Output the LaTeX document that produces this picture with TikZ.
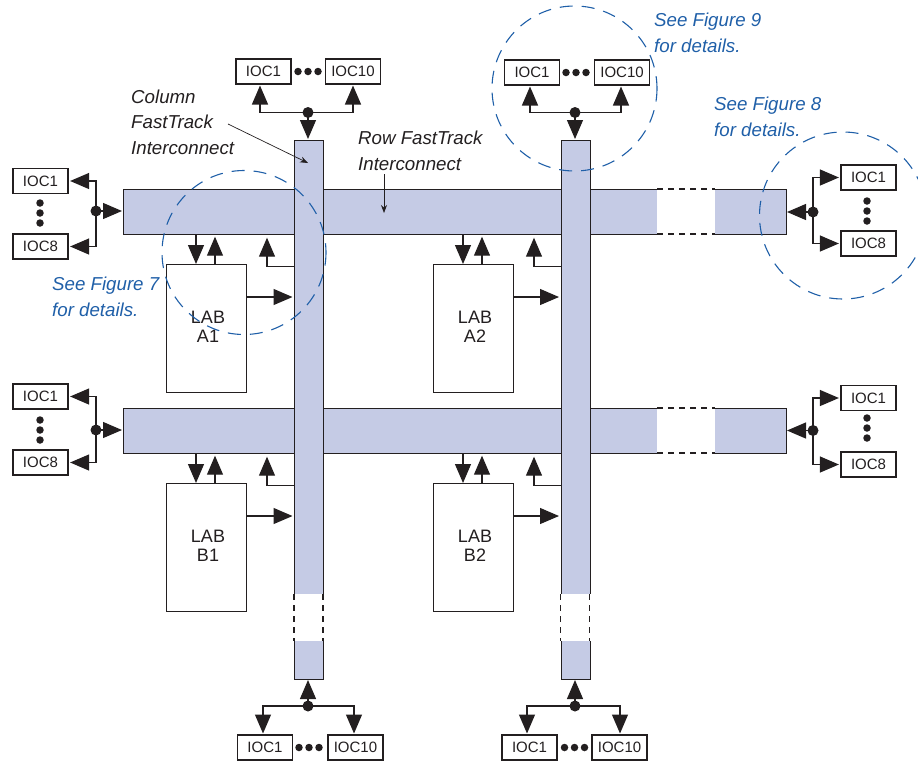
\documentclass[tikz,border=0pt]{standalone}
\usepackage{fontspec}
\setmainfont{Liberation Sans}
\usetikzlibrary{arrows.meta,calc}
\definecolor{barblue}{HTML}{C5CBE5}
\definecolor{linedark}{HTML}{231F20}
\definecolor{noteblue}{HTML}{1F5FA8}
\tikzset{
  x=1pt,y=-1pt,
  ink/.style={draw=linedark,line width=1.2pt},
  bar/.style={ink,fill=barblue,rectangle,inner sep=0pt,anchor=north west},
  ioc/.style={ink,fill=white,rectangle,inner sep=0pt,minimum width=55pt,minimum height=25pt,font=\fontsize{15}{16}\selectfont,text=linedark},
  labbox/.style={ink,fill=white,rectangle,inner sep=0pt,minimum width=80pt,minimum height=128pt,anchor=north west},
  labtext/.style={font=\fontsize{18}{19}\selectfont,align=center,text=linedark},
  arr/.style={line width=1.2pt,draw=linedark,-{Triangle[length=19pt,width=16pt,fill=linedark]}},
  thin arr/.style={line width=0.7pt,draw=linedark,-{Stealth[length=8pt,width=6pt,fill=linedark]}},
  junction/.style={circle,fill=linedark,inner sep=0pt,minimum size=11pt},
  bullet/.style={circle,fill=linedark,inner sep=0pt,minimum size=7.5pt},
  gapdash/.style={line width=1.1pt,draw=linedark,dash pattern=on 6pt off 5pt},
  zone/.style={draw=noteblue,line width=1.1pt,dash pattern=on 13pt off 9pt},
  note/.style={font=\fontsize{18.7}{25.5}\itshape\selectfont,text=noteblue,align=left,anchor=north west,inner sep=0pt},
  captiontext/.style={font=\fontsize{18.7}{25.5}\itshape\selectfont,text=linedark,align=left,anchor=north west,inner sep=0pt}
}
\begin{document}
\begin{tikzpicture}
\useasboundingbox (0,0) rectangle (918,761);
\clip (0,0) rectangle (918,761);
% rows
\foreach \n/\y in {r1/189,r2/408}{
  \node[bar,minimum width=663pt,minimum height=45pt] (\n) at (123,\y) {};
  \fill[white] (657,\y-1) rectangle (715,\y+46);
  \draw[gapdash] (657,\y) -- (715,\y);
  \draw[gapdash] (657,\y+45) -- (715,\y+45);
}
% columns
\foreach \n/\x in {c1/294,c2/560.5}{
  \node[bar,minimum width=29pt,minimum height=539pt] (\n) at (\x,140) {};
  \fill[white] (\x-1,594) rectangle (\x+30,641);
  \draw[gapdash] (\x,594) -- (\x,641);
  \draw[gapdash] (\x+29,594) -- (\x+29,641);
}
% LAB units
\foreach \n/\lx/\ly/\a/\b/\r/\c in {a1/166/264/LAB/A1/r1/c1,a2/433/264/LAB/A2/r1/c2,b1/166/483/LAB/B1/r2/c1,b2/433/483/LAB/B2/r2/c2}{
  \node[labbox] (\n) at (\lx,\ly) {};
  \node[labtext] (\n t) at (\lx+42,\ly+62.5) {\a\\\b};
  \coordinate (\n d) at (\lx+30,\ly);
  \coordinate (\n u) at (\lx+49,\ly);
  \coordinate (\n s) at (\lx+101,\ly+2.5);
  \coordinate (\n k) at (\lx+80,\ly+33);
  \draw[arr] (\n d |- \r.south) -- (\n d);
  \draw[arr,shorten >=1.5pt] (\n u) -- (\n u |- \r.south);
  \draw[arr,shorten >=2.5pt] (\n s -| \c.west) -| (\n s |- \r.south);
  \draw[arr,shorten >=1.5pt] (\n k) -- (\n k -| \c.west);
}
% left and right IOC groups
\foreach \n/\ya/\yb/\yj/\yd in {la/181/246.5/211/203,lb/396.5/462.5/430/420}{
  \node[ioc] (\n1) at (40.5,\ya) {IOC1};
  \node[ioc] (\n8) at (40.5,\yb) {IOC8};
  \node[junction] (\n j) at (96,\yj) {};
  \coordinate (\n e) at (123,\yj);
  \draw[arr,shorten >=1.5pt] (\n j.center) |- (\n1.east);
  \draw[arr,shorten >=1.5pt] (\n j.center) |- (\n8.east);
  \draw[arr,shorten >=1pt] (\n j.center) -- (\n e);
  \foreach \k in {0,10,20}{\node[bullet] at (40,\yd+\k) {};}
}
\foreach \n/\ya/\yb/\yj/\yd in {ra/177.5/243.5/212/201,rb/398/464.5/430.5/418}{
  \node[ioc] (\n1) at (868.5,\ya) {IOC1};
  \node[ioc] (\n8) at (868.5,\yb) {IOC8};
  \node[junction] (\n j) at (813,\yj) {};
  \coordinate (\n e) at (786,\yj);
  \draw[arr,shorten >=1.5pt] (\n j.center) |- (\n1.west);
  \draw[arr,shorten >=1.5pt] (\n j.center) |- (\n8.west);
  \draw[arr,shorten >=1pt] (\n j.center) -- (\n e);
  \foreach \k in {0,10,20}{\node[bullet] at (867,\yd+\k) {};}
}
% top IOC groups
\foreach \n/\xa/\xb/\xj/\xd/\y/\c in {ta/263.5/353/308/298/71.5/c1,tb/532/622/575/566/72.5/c2}{
  \node[ioc] (\n1) at (\xa,\y) {IOC1};
  \node[ioc] (\n0) at (\xb,\y) {IOC10};
  \node[junction] (\n j) at (\xj,112.5) {};
  \coordinate (\n e) at (\xj,140);
  \draw[arr,shorten >=1pt] (\n j.center) -- (\n e);
  \foreach \k in {0,10,20}{\node[bullet] at (\xd+\k,\y) {};}
}
\coordinate (tal) at (260,84); \coordinate (tar) at (353,84);
\coordinate (tbl) at (530,85); \coordinate (tbr) at (621,85);
\draw[arr,shorten >=1.5pt] (taj.center) -| (tal);
\draw[arr,shorten >=1.5pt] (taj.center) -| (tar);
\draw[arr,shorten >=1.5pt] (tbj.center) -| (tbl);
\draw[arr,shorten >=1.5pt] (tbj.center) -| (tbr);
% bottom IOC groups
\foreach \n/\xa/\xb/\xj/\xd/\c in {ba/265/355.5/308/299/c1,bb/529.5/619.5/575/564.5/c2}{
  \node[ioc] (\n1) at (\xa,747.5) {IOC1};
  \node[ioc] (\n0) at (\xb,747.5) {IOC10};
  \node[junction] (\n j) at (\xj,706) {};
  \coordinate (\n e) at (\xj,679);
  \draw[arr,shorten >=1pt] (\n j.center) -- (\n e);
  \foreach \k in {0,10,20}{\node[bullet] at (\xd+\k,747.5) {};}
}
\coordinate (bal) at (263,735); \coordinate (bar) at (354,735);
\coordinate (bbl) at (527,735); \coordinate (bbr) at (620,735);
\draw[arr,shorten >=1.5pt] (baj.center) -| (bal);
\draw[arr,shorten >=1.5pt] (baj.center) -| (bar);
\draw[arr,shorten >=1.5pt] (bbj.center) -| (bbl);
\draw[arr,shorten >=1.5pt] (bbj.center) -| (bbr);
% captions and pointers
\node[captiontext] (colcap) at (131,89.5) {Column\\FastTrack\\Interconnect};
\node[captiontext] (rowcap) at (358,131) {Row FastTrack\\Interconnect};
\coordinate (colfrom) at (228,124); \coordinate (colto) at (308,163);
\coordinate (rowfrom) at (384,174); \coordinate (rowto) at (384,213);
\draw[thin arr] (colfrom) -- (colto);
\draw[thin arr] (rowfrom) -- (rowto);
% detail circles
\node[note] at (52,277) {See Figure 7\\for details.};
\node[note] at (654,13) {See Figure 9\\for details.};
\node[note] at (714,97) {See Figure 8\\for details.};
\draw[zone] (244,252.5) circle (82);
\draw[zone] (574.5,88.5) circle (82.5);
\draw[zone] (843,215.5) circle (83.5);
\end{tikzpicture}
\end{document}
